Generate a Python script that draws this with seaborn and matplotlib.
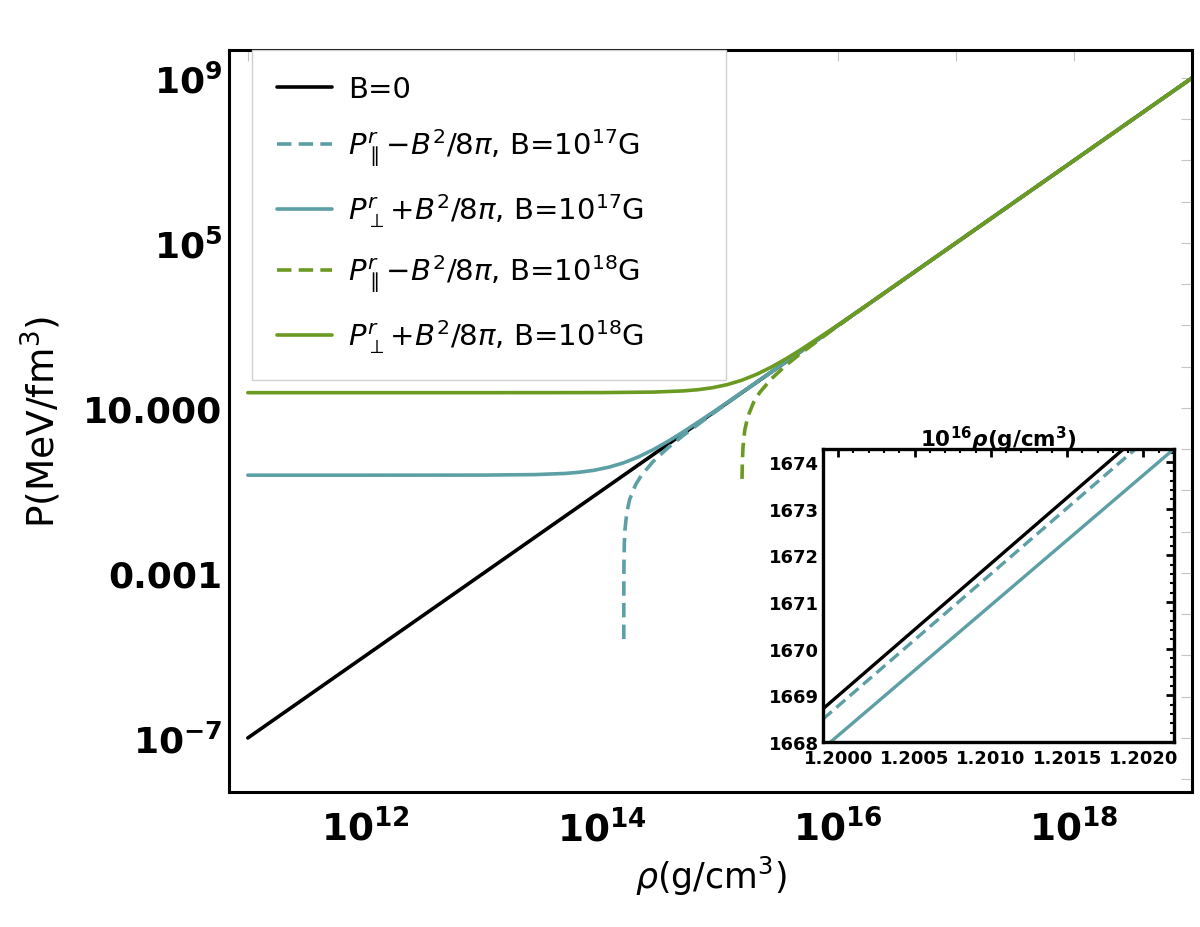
import numpy as np
import pandas as pd
import matplotlib
matplotlib.use('Agg')
import matplotlib.pyplot as plt
import seaborn as sns
from matplotlib.ticker import FixedLocator, FixedFormatter, AutoMinorLocator, NullFormatter

# --- values (log10 rho in g/cm^3, log10 P in MeV/fm^3) ---
b0_logrho = [11.0, 13.0, 15.0, 17.0, 19.0]
b0_logp = [-7.0, -3.0, 1.0, 5.0, 9.0]

par17_logrho = [14.18552, 14.18555, 14.18565, 14.1860, 14.1870, 14.1905, 14.1955, 14.2105,
                14.2355, 14.2855, 14.3355, 14.4355, 14.5605, 14.6855, 14.9355, 15.1855,
                15.6855, 17.0, 19.0]
par17_logp = [-4.602, -4.267, -3.790, -3.266, -2.788, -2.262, -1.956, -1.543,
              -1.216, -0.862, -0.631, -0.294, 0.036, 0.325, 0.857, 1.367,
              2.371, 5.0, 9.0]

perp17_logrho = [11.0, 12.0, 13.0, 13.4355, 13.6855, 13.8105, 13.9355, 14.0605, 14.1855,
                 14.3105, 14.4355, 14.5605, 14.6855, 14.9355, 15.1855, 15.6855, 17.0, 19.0]
perp17_logp = [-0.629, -0.629, -0.627, -0.615, -0.588, -0.558, -0.510, -0.435, -0.328,
               -0.185, -0.010, 0.192, 0.413, 0.885, 1.375, 2.372, 5.0, 9.0]

par18_logrho = [15.1873, 15.1906, 15.1956, 15.2106, 15.2356, 15.2856, 15.3356, 15.4356,
                15.5606, 15.6856, 15.9356, 16.1856, 16.6856, 17.5, 19.0]
par18_logp = [-0.720, -0.262, 0.044, 0.458, 0.784, 1.138, 1.369, 1.706,
              2.036, 2.325, 2.857, 3.367, 4.371, 6.0, 9.0]

perp18_logrho = [11.0, 13.0, 14.0, 14.4355, 14.6855, 14.8105, 14.9355, 15.0605, 15.1855,
                 15.3105, 15.4355, 15.5605, 15.6855, 15.9355, 16.1855, 16.6855, 17.5, 19.0]
perp18_logp = [1.371, 1.371, 1.373, 1.385, 1.413, 1.442, 1.490, 1.565, 1.672,
               1.815, 1.990, 2.192, 2.413, 2.885, 3.375, 4.372, 6.0, 9.0]

# inset (rho in units of 1e16 g/cm^3, P in MeV/fm^3)
inset_rho_b0 = [1.1999, 1.2020]
inset_p_b0 = [1668.71, 1674.65]
inset_rho_par17 = [1.1999, 1.2021]
inset_p_par17 = [1668.49, 1674.71]
inset_rho_perp17 = [1.1999, 1.2022]
inset_p_perp17 = [1667.86, 1674.28]

labels = [
    'B=0',
    r'$P_{\parallel}^{r}\!-\!B^{2}/8\pi$, B=10$^{17}$G',
    r'$P_{\perp}^{r}\!+\!B^{2}/8\pi$, B=10$^{17}$G',
    r'$P_{\parallel}^{r}\!-\!B^{2}/8\pi$, B=10$^{18}$G',
    r'$P_{\perp}^{r}\!+\!B^{2}/8\pi$, B=10$^{18}$G',
]
black = '#000000'
teal = '#5c9fa4'
green = '#6b9a22'

y_major = [1e-7, 1e-3, 1e1, 1e5, 1e9]
y_labels = [r'$\mathbf{10^{-7}}$', '0.001', '10.000', r'$\mathbf{10^{5}}$', r'$\mathbf{10^{9}}$']
x_major = [1e12, 1e14, 1e16, 1e18]
x_labels = [r'$\mathbf{10^{12}}$', r'$\mathbf{10^{14}}$', r'$\mathbf{10^{16}}$', r'$\mathbf{10^{18}}$']

sns.set_theme(style='white')
plt.rcParams['font.family'] = ['DejaVu Sans']
plt.rcParams['mathtext.fontset'] = 'dejavusans'
plt.rcParams['text.color'] = 'black'
plt.rcParams['axes.labelcolor'] = 'black'
plt.rcParams['xtick.labelcolor'] = 'black'
plt.rcParams['ytick.labelcolor'] = 'black'

fig = plt.figure(figsize=(12, 9.28), dpi=100)
ax = fig.add_axes([0.1908, 0.1455, 0.8025, 0.7996])

dash = (0, (4.0, 2.0))
series = [
    (b0_logrho, b0_logp, black, '-'),
    (par17_logrho, par17_logp, teal, dash),
    (perp17_logrho, perp17_logp, teal, '-'),
    (par18_logrho, par18_logp, green, dash),
    (perp18_logrho, perp18_logp, green, '-'),
]
for (lr, lp, col, ls), lab in zip(series, labels):
    df = pd.DataFrame({'rho': 10.0 ** np.array(lr), 'P': 10.0 ** np.array(lp)})
    sns.lineplot(data=df, x='rho', y='P', ax=ax, color=col, linestyle=ls, lw=2.6,
                 label=lab, estimator=None, sort=False)

ax.set_xscale('log')
ax.set_yscale('log')
ax.set_xlim(10 ** 10.84, 10 ** 19.0)
ax.set_ylim(10 ** -8.31, 10 ** 9.68)

ax.yaxis.set_major_locator(FixedLocator(y_major))
ax.yaxis.set_major_formatter(FixedFormatter(y_labels))
ax.yaxis.set_minor_locator(FixedLocator([10.0 ** k for k in range(-8, 10)]))
ax.yaxis.set_minor_formatter(NullFormatter())
ax.xaxis.set_major_locator(FixedLocator(x_major))
ax.xaxis.set_major_formatter(FixedFormatter(x_labels))
ax.xaxis.set_minor_locator(FixedLocator([10.0 ** k for k in range(11, 20)]))
ax.xaxis.set_minor_formatter(NullFormatter())
ax.tick_params(which='both', direction='in', top=True, right=True, color='#c4c4c4',
               length=8, width=0.8, labelcolor='black')
ax.tick_params(axis='y', labelsize=26, pad=5)
ax.tick_params(axis='x', labelsize=27, pad=12)
for t in ax.get_yticklabels():
    t.set_fontweight('bold')
for s in ax.spines.values():
    s.set_color('black')
    s.set_linewidth(2.2)

ax.set_xlabel(r'$\rho$(g/cm$^3$)', fontsize=25, labelpad=4)
ax.set_ylabel('P(MeV/fm$^3$)', fontsize=27, labelpad=14)

h, l = ax.get_legend_handles_labels()
leg = ax.legend(h, l, loc='upper left', bbox_to_anchor=(0.0239, 0.55, 0.4922, 0.45),
                mode='expand', borderaxespad=0,
                fontsize=21, frameon=True, fancybox=False, framealpha=1,
                edgecolor='#d0d0d0', handlelength=1.9, handletextpad=0.55,
                labelspacing=0.8, borderpad=0.85)
leg.get_frame().set_linewidth(1.0)

# --- inset ---
axin = fig.add_axes([0.6858, 0.1994, 0.2925, 0.3157])
sns.lineplot(x=inset_rho_b0, y=inset_p_b0, ax=axin, color=black, lw=2.4, estimator=None, sort=False)
sns.lineplot(x=inset_rho_par17, y=inset_p_par17, ax=axin, color=teal, lw=2.4,
             linestyle=(0, (3.5, 1.8)), estimator=None, sort=False)
sns.lineplot(x=inset_rho_perp17, y=inset_p_perp17, ax=axin, color=teal, lw=2.4,
             estimator=None, sort=False)
axin.set_xlim(1.1999, 1.2022)
axin.set_ylim(1668.0, 1674.28)
axin.xaxis.set_major_locator(FixedLocator([1.2000, 1.2005, 1.2010, 1.2015, 1.2020]))
axin.xaxis.set_major_formatter(FixedFormatter(['1.2000', '1.2005', '1.2010', '1.2015', '1.2020']))
axin.yaxis.set_major_locator(FixedLocator([1668, 1669, 1670, 1671, 1672, 1673, 1674]))
axin.xaxis.set_minor_locator(AutoMinorLocator(5))
axin.yaxis.set_minor_locator(AutoMinorLocator(5))
axin.tick_params(which='both', direction='in', top=True, right=True, color='black',
                 labelcolor='black')
axin.tick_params(which='major', length=6, width=2.0, labelsize=13, pad=3)
axin.tick_params(axis='x', which='major', pad=5)
axin.tick_params(which='minor', length=3, width=1.5)
for t in axin.get_xticklabels() + axin.get_yticklabels():
    t.set_fontweight('bold')
for s in axin.spines.values():
    s.set_color('black')
    s.set_linewidth(2.4)
axin.set_xlabel('')
axin.set_ylabel('')
axin.set_title(r'$\mathbf{10^{16}}\mathbfit{\rho}\mathbf{(g/cm^{3})}$', fontsize=15.5, pad=2)

fig.savefig('out.png', dpi=100)
